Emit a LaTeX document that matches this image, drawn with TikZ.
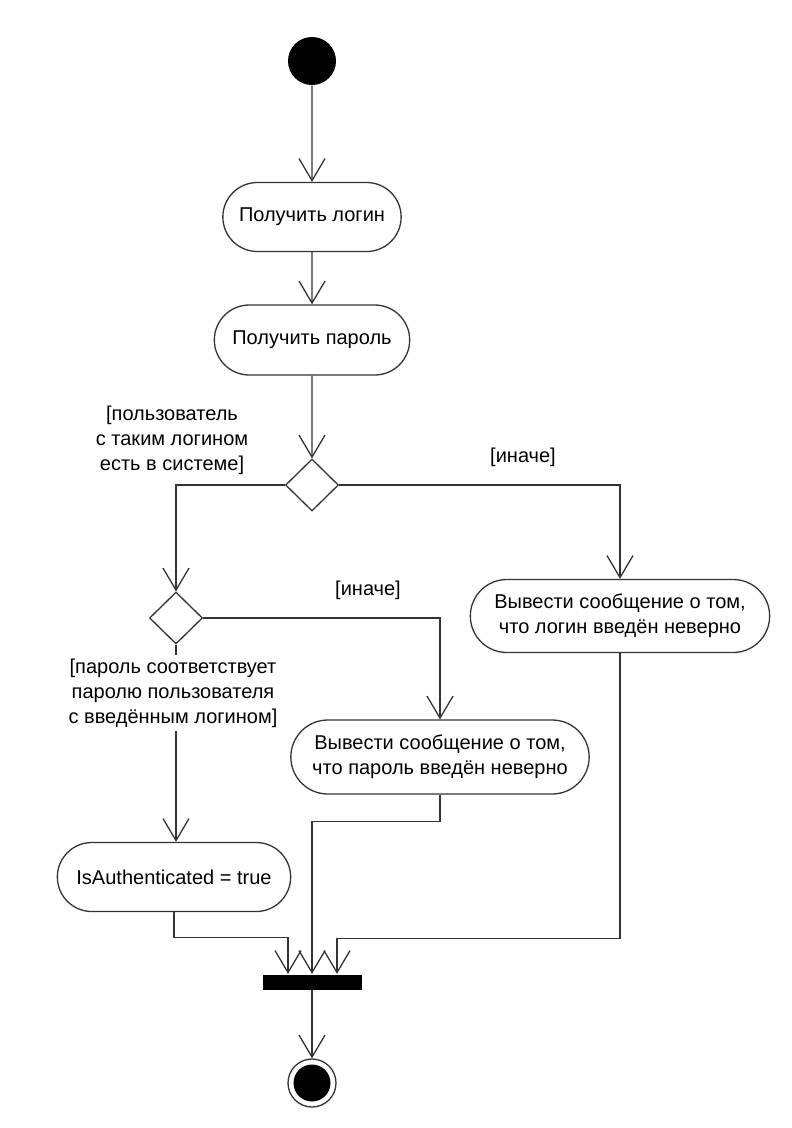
\documentclass[tikz,border=0pt]{standalone}
\usepackage{fontspec}
\setmainfont{Liberation Sans}
\usetikzlibrary{arrows.meta,shapes.geometric,shapes.misc}
\begin{document}
\begin{tikzpicture}[x=1pt,y=-1pt,
		line width=1.3pt, draw=black!80,
		action/.style={draw, rounded rectangle, minimum height=69pt,
			align=center, font=\fontsize{20}{25}\selectfont},
		decision/.style={draw, diamond, inner sep=0pt,
			minimum width=53pt, minimum height=52pt},
		guard/.style={align=center, font=\fontsize{20}{25}\selectfont},
		flow/.style={-{Straight Barb[length=22pt,width=26pt]}}]
		
		\useasboundingbox (0,0) rectangle (792,1128);
		
		% start and actions
		\node[circle, fill=black, minimum size=48pt, inner sep=0pt] (start) at (312,61) {};
		\node[action, minimum width=185pt] (login) at (312,217) {Получить логин};
		\node[action, minimum width=202pt, minimum height=70pt] (pass) at (312,340) {Получить пароль};
		
		% decisions
		\node[decision] (d1) at (312,485) {};
		\node[decision] (d2) at (176,618) {};
		
		\node[action, minimum width=306pt, minimum height=73pt] (badlogin) at (620,616)
		{Вывести сообщение о том,\\ что логин введён неверно};
		\node[action, minimum width=305pt, minimum height=74pt] (badpass) at (440,757)
		{Вывести сообщение о том,\\что пароль введён неверно};
		\node[action, minimum width=240pt] (auth) at (174,877) {IsAuthenticated = true};
		
		% join and end
		\node[fill=black, minimum width=99pt, minimum height=15pt, inner sep=0pt] (join) at (312,982) {};
		\node[circle, draw, minimum size=48pt, inner sep=0pt] (final) at (312,1083) {};
		\node[circle, fill=black, minimum size=37pt, inner sep=0pt] (finaldot) at (final) {};
		
		% guards
		\node[guard] (g1) at (172,440) {[пользователь\\с таким логином\\есть в системе]};
		\node[guard] (g2) at (523,457) {[иначе]};
		\node[guard] (g3) at (368,590) {[иначе]};
		
		% flows
		\draw[flow] (start) -- (login);
		\draw[flow] (login) -- (pass);
		\draw[flow] (pass) -- (d1);
		\draw[flow] (d1.west) -| (d2.north);
		\draw[flow] (d1.east) -| (badlogin.north);
		\draw[flow] (d2.east) -| (badpass.north);
		\draw[flow] (d2.south) -- (d2.south |- auth.north);
		\node[guard, fill=white] (g4) at (173,693)
		{[пароль соответствует\\паролю пользователя\\с введённым логином]};
		\draw[flow] (auth.south) -- ++(0,25) -| ([xshift=-24pt]join.north);
		\draw[flow] (badpass.south) -- ++(0,27) -| (join.north);
		\draw[flow] (badlogin.south) -- ++(0,285) -| ([xshift=25pt]join.north);
		\draw[flow] (join) -- (final);
		
	\end{tikzpicture}
\end{document}
